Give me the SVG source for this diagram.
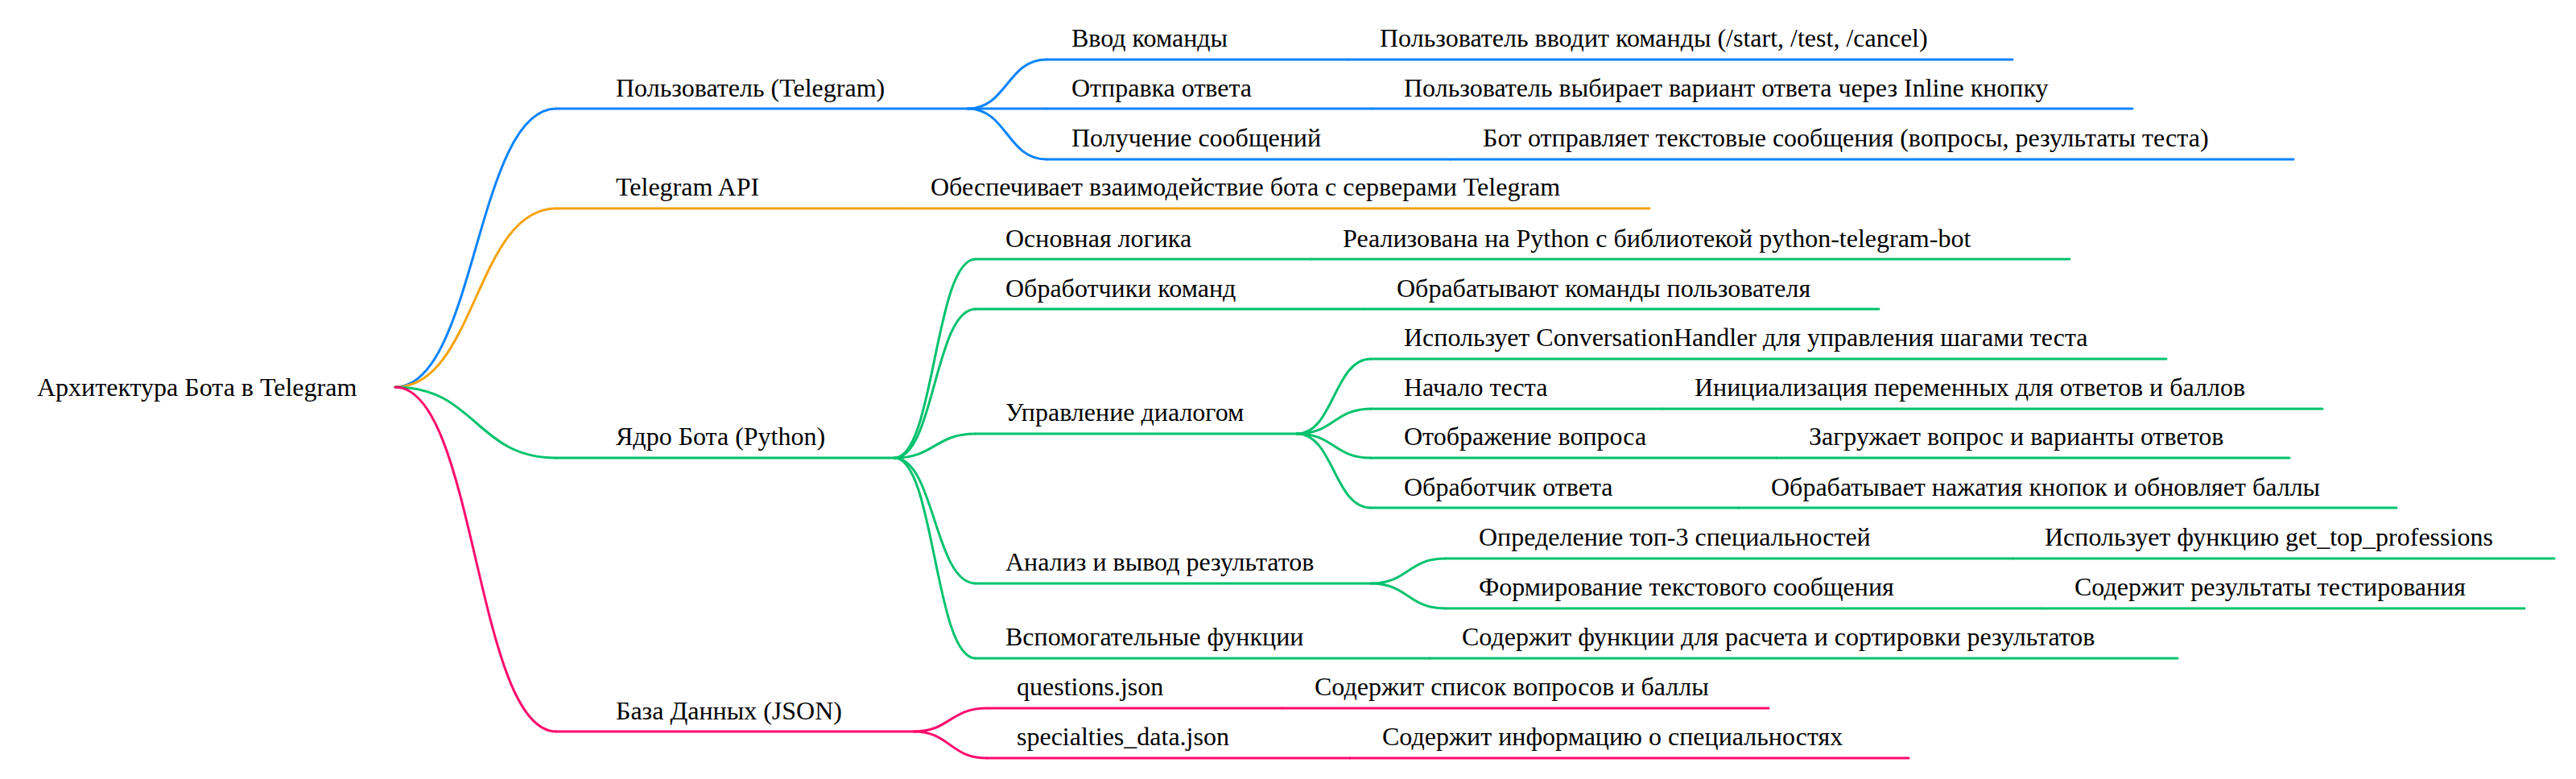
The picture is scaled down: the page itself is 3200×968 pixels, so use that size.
<svg xmlns="http://www.w3.org/2000/svg" width="3200" height="968" viewBox="0 0 3200 968">
<style>
text{font-family:"Liberation Serif","Times New Roman",serif;font-size:32px;fill:#000}
line,path{fill:none;stroke-width:3;stroke-linecap:round}
.b{stroke:#0a84ff}.o{stroke:#f5a30a}.g{stroke:#00c26e}.p{stroke:#ff0a6e}
</style>
<rect width="3200" height="968" fill="#fff"/>
<g id="connectors">
<path class="b" d="M491,481 C591,481 591,135 691,135"/>
<path class="o" d="M491,481 C591,481 591,259 691,259"/>
<path class="g" d="M491,481 C591,481 591,569 691,569"/>
<path class="p" d="M491,481 C591,481 591,909 691,909"/>
<path class="b" d="M1202,135 C1251,135 1251,74 1300,74"/>
<path class="b" d="M1202,135 L1300,135"/>
<path class="b" d="M1202,135 C1251,135 1251,198 1300,198"/>
<path class="g" d="M1111,569 C1161,569 1161,322 1212,322"/>
<path class="g" d="M1111,569 C1161,569 1161,384 1212,384"/>
<path class="g" d="M1111,569 C1161,569 1161,539 1212,539"/>
<path class="g" d="M1111,569 C1161,569 1161,725 1212,725"/>
<path class="g" d="M1111,569 C1161,569 1161,818 1212,818"/>
<path class="g" d="M1611,539 C1657,539 1657,446 1703,446"/>
<path class="g" d="M1611,539 C1657,539 1657,508 1703,508"/>
<path class="g" d="M1611,539 C1657,539 1657,569 1703,569"/>
<path class="g" d="M1611,539 C1657,539 1657,631 1703,631"/>
<path class="g" d="M1703,725 C1749,725 1749,694 1795,694"/>
<path class="g" d="M1703,725 C1749,725 1749,756 1795,756"/>
<path class="p" d="M1135,909 C1180,909 1180,880 1226,880"/>
<path class="p" d="M1135,909 C1180,909 1180,942 1226,942"/>
</g>
<g id="root"><text x="46" y="492">Архитектура Бота в Telegram</text></g>
<g id="n-user"><line class="b" x1="691" y1="135" x2="1202" y2="135"/><text x="765" y="120">Пользователь (Telegram)</text></g>
<g id="n-cmd"><line class="b" x1="1300" y1="74" x2="1674" y2="74"/><text x="1331" y="58">Ввод команды</text></g>
<g id="n-cmd-d"><line class="b" x1="1674" y1="74" x2="2500" y2="74"/><text x="1714" y="58">Пользователь вводит команды (/start, /test, /cancel)</text></g>
<g id="n-ans"><line class="b" x1="1300" y1="135" x2="1704" y2="135"/><text x="1331" y="120">Отправка ответа</text></g>
<g id="n-ans-d"><line class="b" x1="1704" y1="135" x2="2649" y2="135"/><text x="1744" y="120">Пользователь выбирает вариант ответа через Inline кнопку</text></g>
<g id="n-msg"><line class="b" x1="1300" y1="198" x2="1802" y2="198"/><text x="1331" y="182">Получение сообщений</text></g>
<g id="n-msg-d"><line class="b" x1="1802" y1="198" x2="2849" y2="198"/><text x="1842" y="182">Бот отправляет текстовые сообщения (вопросы, результаты теста)</text></g>
<g id="n-api"><line class="o" x1="691" y1="259" x2="1116" y2="259"/><text x="765" y="243">Telegram API</text></g>
<g id="n-api-d"><line class="o" x1="1116" y1="259" x2="2049" y2="259"/><text x="1156" y="243">Обеспечивает взаимодействие бота с серверами Telegram</text></g>
<g id="n-core"><line class="g" x1="691" y1="569" x2="1111" y2="569"/><text x="765" y="553">Ядро Бота (Python)</text></g>
<g id="n-logic"><line class="g" x1="1212" y1="322" x2="1628" y2="322"/><text x="1249" y="307">Основная логика</text></g>
<g id="n-logic-d"><line class="g" x1="1628" y1="322" x2="2571" y2="322"/><text x="1668" y="307">Реализована на Python с библиотекой python-telegram-bot</text></g>
<g id="n-handlers"><line class="g" x1="1212" y1="384" x2="1695" y2="384"/><text x="1249" y="369">Обработчики команд</text></g>
<g id="n-handlers-d"><line class="g" x1="1695" y1="384" x2="2334" y2="384"/><text x="1735" y="369">Обрабатывают команды пользователя</text></g>
<g id="n-dialog"><line class="g" x1="1212" y1="539" x2="1611" y2="539"/><text x="1249" y="523">Управление диалогом</text></g>
<g id="n-conv"><line class="g" x1="1703" y1="446" x2="2691" y2="446"/><text x="1744" y="430">Использует ConversationHandler для управления шагами теста</text></g>
<g id="n-start"><line class="g" x1="1703" y1="508" x2="2065" y2="508"/><text x="1744" y="492">Начало теста</text></g>
<g id="n-start-d"><line class="g" x1="2065" y1="508" x2="2885" y2="508"/><text x="2105" y="492">Инициализация переменных для ответов и баллов</text></g>
<g id="n-show"><line class="g" x1="1703" y1="569" x2="2207" y2="569"/><text x="1744" y="553">Отображение вопроса</text></g>
<g id="n-show-d"><line class="g" x1="2207" y1="569" x2="2844" y2="569"/><text x="2247" y="553">Загружает вопрос и варианты ответов</text></g>
<g id="n-handle"><line class="g" x1="1703" y1="631" x2="2160" y2="631"/><text x="1744" y="616">Обработчик ответа</text></g>
<g id="n-handle-d"><line class="g" x1="2160" y1="631" x2="2977" y2="631"/><text x="2200" y="616">Обрабатывает нажатия кнопок и обновляет баллы</text></g>
<g id="n-analysis"><line class="g" x1="1212" y1="725" x2="1703" y2="725"/><text x="1249" y="709">Анализ и вывод результатов</text></g>
<g id="n-top"><line class="g" x1="1795" y1="694" x2="2500" y2="694"/><text x="1837" y="678">Определение топ-3 специальностей</text></g>
<g id="n-top-d"><line class="g" x1="2500" y1="694" x2="3173" y2="694"/><text x="2540" y="678">Использует функцию get_top_professions</text></g>
<g id="n-form"><line class="g" x1="1795" y1="756" x2="2537" y2="756"/><text x="1837" y="740">Формирование текстового сообщения</text></g>
<g id="n-form-d"><line class="g" x1="2537" y1="756" x2="3136" y2="756"/><text x="2577" y="740">Содержит результаты тестирования</text></g>
<g id="n-aux"><line class="g" x1="1212" y1="818" x2="1776" y2="818"/><text x="1249" y="802">Вспомогательные функции</text></g>
<g id="n-aux-d"><line class="g" x1="1776" y1="818" x2="2705" y2="818"/><text x="1816" y="802">Содержит функции для расчета и сортировки результатов</text></g>
<g id="n-db"><line class="p" x1="691" y1="909" x2="1135" y2="909"/><text x="765" y="894">База Данных (JSON)</text></g>
<g id="n-q"><line class="p" x1="1226" y1="880" x2="1593" y2="880"/><text x="1263" y="864">questions.json</text></g>
<g id="n-q-d"><line class="p" x1="1593" y1="880" x2="2197" y2="880"/><text x="1633" y="864">Содержит список вопросов и баллы</text></g>
<g id="n-s"><line class="p" x1="1226" y1="942" x2="1677" y2="942"/><text x="1263" y="926">specialties_data.json</text></g>
<g id="n-s-d"><line class="p" x1="1677" y1="942" x2="2371" y2="942"/><text x="1717" y="926">Содержит информацию о специальностях</text></g>
</svg>
